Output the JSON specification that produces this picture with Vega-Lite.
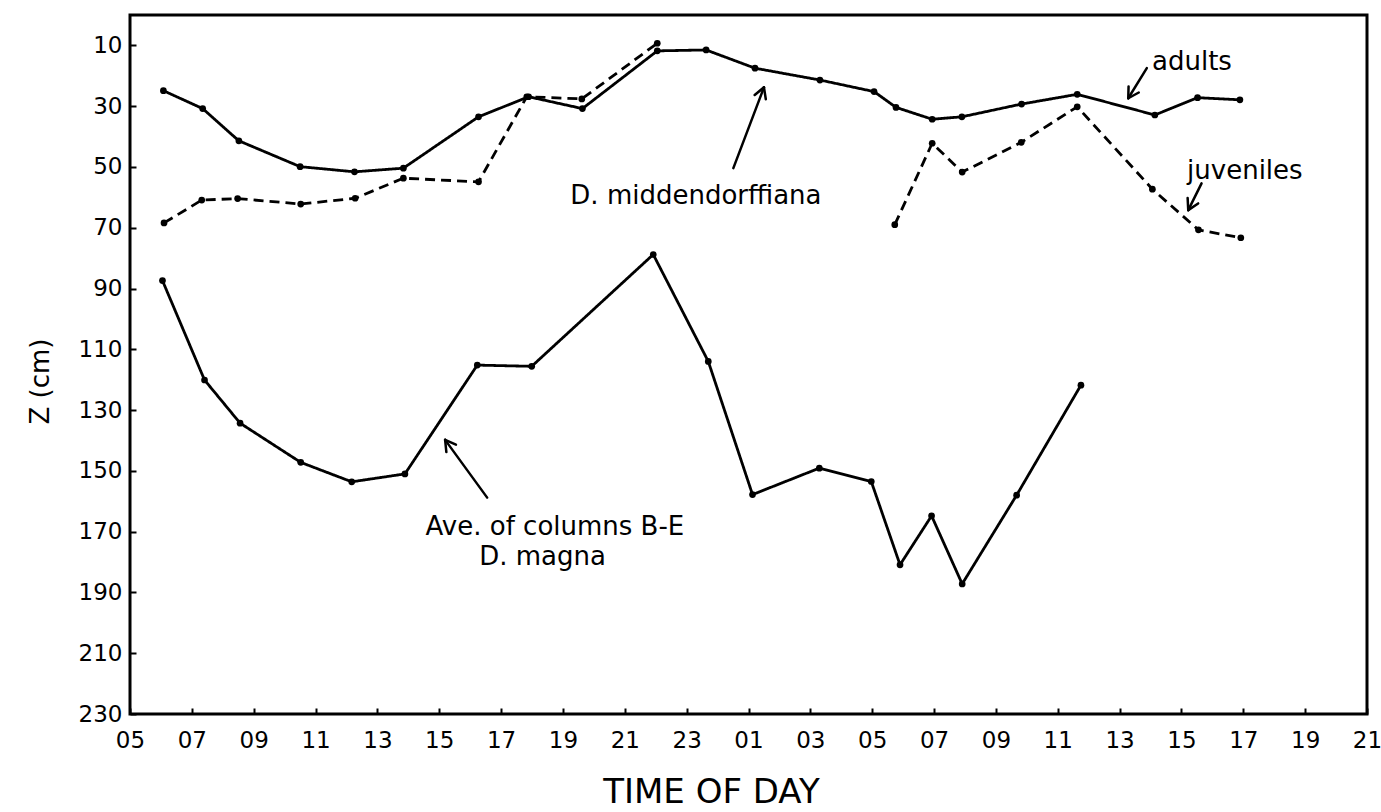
{
  "$schema": "https://vega.github.io/schema/vega-lite/v6.json",
  "width": 1237,
  "height": 699,
  "autosize": {"type": "none"},
  "padding": {"left": 130, "top": 15, "right": 14, "bottom": 98},
  "background": "white",
  "config": {
    "view": {"stroke": "black", "strokeWidth": 3},
    "font": "DejaVu Sans",
    "axis": {
      "domain": false,
      "grid": false,
      "tickColor": "black",
      "tickWidth": 2,
      "tickSize": -6,
      "labelColor": "black",
      "labelFont": "DejaVu Sans",
      "labelFontSize": 23,
      "titleColor": "black",
      "titleFont": "DejaVu Sans",
      "titleFontWeight": "normal"
    }
  },
  "datasets": {
    "series": [
      {"series": "adults", "seg": "a", "hour": 6.08, "z": 24.9},
      {"series": "adults", "seg": "a", "hour": 7.35, "z": 30.8},
      {"series": "adults", "seg": "a", "hour": 8.52, "z": 41.4},
      {"series": "adults", "seg": "a", "hour": 10.50, "z": 49.9},
      {"series": "adults", "seg": "a", "hour": 12.26, "z": 51.6},
      {"series": "adults", "seg": "a", "hour": 13.84, "z": 50.4},
      {"series": "adults", "seg": "a", "hour": 16.27, "z": 33.5},
      {"series": "adults", "seg": "a", "hour": 17.89, "z": 26.9},
      {"series": "adults", "seg": "a", "hour": 19.63, "z": 30.8},
      {"series": "adults", "seg": "a", "hour": 22.05, "z": 11.8},
      {"series": "adults", "seg": "a", "hour": 23.63, "z": 11.5},
      {"series": "adults", "seg": "a", "hour": 25.21, "z": 17.5},
      {"series": "adults", "seg": "a", "hour": 27.31, "z": 21.4},
      {"series": "adults", "seg": "a", "hour": 29.06, "z": 25.2},
      {"series": "adults", "seg": "a", "hour": 29.77, "z": 30.4},
      {"series": "adults", "seg": "a", "hour": 30.94, "z": 34.3},
      {"series": "adults", "seg": "a", "hour": 31.90, "z": 33.5},
      {"series": "adults", "seg": "a", "hour": 33.83, "z": 29.3},
      {"series": "adults", "seg": "a", "hour": 35.63, "z": 26.1},
      {"series": "adults", "seg": "a", "hour": 38.14, "z": 32.9},
      {"series": "adults", "seg": "a", "hour": 39.52, "z": 27.2},
      {"series": "adults", "seg": "a", "hour": 40.89, "z": 27.9},
      {"series": "juveniles", "seg": "j1", "hour": 6.10, "z": 68.4},
      {"series": "juveniles", "seg": "j1", "hour": 7.32, "z": 60.9},
      {"series": "juveniles", "seg": "j1", "hour": 8.48, "z": 60.4},
      {"series": "juveniles", "seg": "j1", "hour": 10.52, "z": 62.2},
      {"series": "juveniles", "seg": "j1", "hour": 12.28, "z": 60.3},
      {"series": "juveniles", "seg": "j1", "hour": 13.84, "z": 53.7},
      {"series": "juveniles", "seg": "j1", "hour": 16.27, "z": 54.9},
      {"series": "juveniles", "seg": "j1", "hour": 17.83, "z": 26.9},
      {"series": "juveniles", "seg": "j1", "hour": 19.61, "z": 27.6},
      {"series": "juveniles", "seg": "j1", "hour": 22.05, "z": 9.3},
      {"series": "juveniles", "seg": "j2", "hour": 29.73, "z": 69.0},
      {"series": "juveniles", "seg": "j2", "hour": 30.94, "z": 42.2},
      {"series": "juveniles", "seg": "j2", "hour": 31.91, "z": 51.7},
      {"series": "juveniles", "seg": "j2", "hour": 33.82, "z": 41.9},
      {"series": "juveniles", "seg": "j2", "hour": 35.63, "z": 30.2},
      {"series": "juveniles", "seg": "j2", "hour": 38.06, "z": 57.3},
      {"series": "juveniles", "seg": "j2", "hour": 39.55, "z": 70.7},
      {"series": "juveniles", "seg": "j2", "hour": 40.92, "z": 73.3},
      {"series": "magna", "seg": "m", "hour": 6.05, "z": 87.4},
      {"series": "magna", "seg": "m", "hour": 7.41, "z": 120.1},
      {"series": "magna", "seg": "m", "hour": 8.56, "z": 134.3},
      {"series": "magna", "seg": "m", "hour": 10.52, "z": 147.2},
      {"series": "magna", "seg": "m", "hour": 12.17, "z": 153.6},
      {"series": "magna", "seg": "m", "hour": 13.89, "z": 151.0},
      {"series": "magna", "seg": "m", "hour": 16.23, "z": 115.2},
      {"series": "magna", "seg": "m", "hour": 17.99, "z": 115.6},
      {"series": "magna", "seg": "m", "hour": 21.92, "z": 78.8},
      {"series": "magna", "seg": "m", "hour": 23.70, "z": 114.0},
      {"series": "magna", "seg": "m", "hour": 25.13, "z": 157.8},
      {"series": "magna", "seg": "m", "hour": 27.29, "z": 149.1},
      {"series": "magna", "seg": "m", "hour": 28.97, "z": 153.5},
      {"series": "magna", "seg": "m", "hour": 29.90, "z": 180.9},
      {"series": "magna", "seg": "m", "hour": 30.92, "z": 164.8},
      {"series": "magna", "seg": "m", "hour": 31.91, "z": 187.2},
      {"series": "magna", "seg": "m", "hour": 33.67, "z": 158.0},
      {"series": "magna", "seg": "m", "hour": 35.75, "z": 121.8}
    ],
    "labels": [
      {"hour": 39.34, "z": 15.5, "text": "adults"},
      {"hour": 41.05, "z": 51.3, "text": "juveniles"},
      {"hour": 23.30, "z": 59.6, "text": "D. middendorffiana"},
      {"hour": 18.74, "z": 168.6, "text": "Ave. of columns B-E"},
      {"hour": 18.34, "z": 178.2, "text": "D. magna"}
    ],
    "arrows": [
      {"hour": 37.88, "z": 17.5, "hour2": 37.28, "z2": 27.4},
      {"hour": 37.62, "z": 25.5, "hour2": 37.28, "z2": 27.4},
      {"hour": 37.29, "z": 23.5, "hour2": 37.28, "z2": 27.4},
      {"hour": 39.65, "z": 55.4, "hour2": 39.22, "z2": 64.2},
      {"hour": 39.54, "z": 62.0, "hour2": 39.22, "z2": 64.2},
      {"hour": 39.20, "z": 60.2, "hour2": 39.22, "z2": 64.2},
      {"hour": 24.51, "z": 50.4, "hour2": 25.50, "z2": 23.8},
      {"hour": 25.20, "z": 26.3, "hour2": 25.50, "z2": 23.8},
      {"hour": 25.56, "z": 27.7, "hour2": 25.50, "z2": 23.8},
      {"hour": 16.55, "z": 158.8, "hour2": 15.19, "z2": 139.8},
      {"hour": 15.23, "z": 143.8, "hour2": 15.19, "z2": 139.8},
      {"hour": 15.54, "z": 141.4, "hour2": 15.19, "z2": 139.8}
    ]
  },
  "encoding": {
    "x": {
      "field": "hour",
      "type": "quantitative",
      "scale": {"domain": [5, 45], "nice": false, "zero": false},
      "axis": {
        "title": "TIME OF DAY",
        "values": [5, 7, 9, 11, 13, 15, 17, 19, 21, 23, 25, 27, 29, 31, 33, 35, 37, 39, 41, 43, 45],
        "labelExpr": "(datum.value % 24 < 10 ? '0' : '') + (datum.value % 24)",
        "labelPadding": 21,
        "labelFlush": false,
        "labelOverlap": false,
        "titleFontSize": 34,
        "titleX": 581,
        "titleY": 88,
        "titleBaseline": "alphabetic",
        "titleAlign": "center"
      }
    },
    "y": {
      "field": "z",
      "type": "quantitative",
      "scale": {"domain": [0, 230], "reverse": true, "nice": false, "zero": false},
      "axis": {
        "title": "Z (cm)",
        "values": [10, 30, 50, 70, 90, 110, 130, 150, 170, 190, 210, 230],
        "labelPadding": 14,
        "labelFlush": false,
        "labelOverlap": false,
        "titleFontSize": 26,
        "titleX": -90,
        "titleY": 366,
        "titleBaseline": "middle",
        "titleAlign": "center",
        "titleAngle": -90
      }
    }
  },
  "layer": [
    {
      "data": {"name": "series"},
      "mark": {"type": "line", "color": "black", "strokeWidth": 2.8},
      "encoding": {
        "detail": {"field": "seg"},
        "strokeDash": {
          "field": "series",
          "type": "nominal",
          "scale": {"domain": ["adults", "juveniles", "magna"], "range": [[1, 0], [10, 6], [1, 0]]},
          "legend": null
        }
      }
    },
    {
      "data": {"name": "series"},
      "mark": {"type": "point", "filled": true, "color": "black", "size": 45, "opacity": 1}
    },
    {
      "data": {"name": "arrows"},
      "mark": {"type": "rule", "color": "black", "strokeWidth": 2.5, "strokeCap": "round"},
      "encoding": {
        "x2": {"field": "hour2"},
        "y2": {"field": "z2"}
      }
    },
    {
      "data": {"name": "labels"},
      "mark": {"type": "text", "color": "black", "font": "DejaVu Sans", "fontSize": 26, "align": "center", "baseline": "middle"},
      "encoding": {
        "text": {"field": "text"}
      }
    }
  ]
}
